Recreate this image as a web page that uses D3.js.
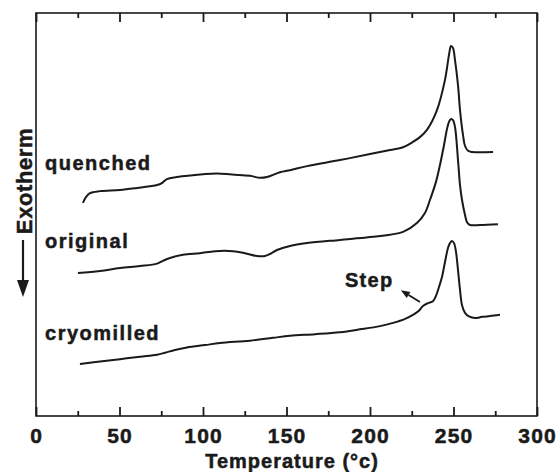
<!DOCTYPE html>
<html>
<head>
<meta charset="utf-8">
<script src="https://cdn.jsdelivr.net/npm/d3@7"></script>
<style>
  body { margin: 0; background: #fff; }
  svg text { font-family: "Liberation Sans", Arial, sans-serif; font-weight: bold; fill: #1a1a1a; stroke: #1a1a1a; stroke-width: 0.5px; }
</style>
</head>
<body>
<svg id="chart" width="558" height="472"></svg>
<script>
// Temperature (°C) and heat flow (arbitrary units)
const quenchedT = [28.1, 29.9, 32.3, 38.3, 50.3, 60.5, 72.5, 75.4, 78.4, 84.4, 100, 108.4, 117.4, 128.1, 134.1, 138.3, 146.1, 152.1, 162.3, 182, 200, 212, 219.8, 225.7, 229.9, 234.1, 240.1, 244.9, 247.3, 248.5, 249.7, 250.9, 252.7, 253.9, 255.7, 256.9, 258.7, 261.1, 273.7];
const quenchedV = [52.9, 54.3, 55.3, 55.8, 56.1, 56.6, 57.3, 57.8, 58.8, 59.3, 60.0, 60.2, 59.9, 59.6, 59.1, 59.3, 60.5, 61.0, 62.0, 63.5, 65.0, 66.0, 66.7, 68.0, 69.2, 71.0, 75.9, 83.4, 89.6, 91.8, 91.3, 88.3, 82.1, 75.9, 69.7, 67.0, 65.8, 65.5, 65.5];

const originalT = [25.1, 38.3, 50.3, 62.3, 72.5, 76.0, 80.2, 88.0, 98.2, 107.2, 118.0, 125.1, 132.3, 137.1, 140.1, 144.3, 152.1, 162.3, 182, 200, 219.8, 228.1, 232.9, 235.9, 239.5, 241.9, 244.3, 246.1, 247.3, 248.5, 249.7, 250.9, 252.7, 253.9, 255.1, 256.9, 258.1, 259.9, 265.9, 276.6];
const originalV = [35.5, 36.0, 36.7, 37.2, 37.8, 38.5, 39.2, 40.0, 40.4, 40.9, 40.9, 40.4, 39.7, 39.7, 40.2, 41.2, 42.2, 42.9, 43.7, 44.4, 45.7, 47.9, 50.4, 53.6, 58.1, 62.3, 67.2, 71.2, 73.0, 73.7, 73.4, 71.7, 63.5, 57.3, 53.6, 49.9, 48.1, 47.4, 47.4, 47.6];

const cryomilledT = [26.3, 38.3, 50.3, 62.3, 72.5, 77.2, 83.2, 90.4, 101.2, 110.2, 128.1, 141.9, 152.1, 167.1, 182, 194, 206, 213.8, 221, 225.7, 229.3, 231.7, 234.7, 237.7, 239.5, 241.3, 243.1, 244.9, 246.7, 247.9, 249.1, 250.3, 251.5, 252.7, 253.9, 255.1, 256.9, 259.3, 262.9, 267.1, 271.9, 277.8];
const cryomilledV = [12.9, 13.5, 14.1, 14.7, 15.2, 15.7, 16.4, 17.0, 17.6, 18.1, 18.7, 19.4, 19.9, 20.3, 20.8, 21.5, 22.3, 23.1, 24.1, 25.1, 26.1, 27.3, 28.0, 28.5, 29.8, 32.0, 34.5, 38.2, 41.7, 42.9, 43.4, 42.9, 40.7, 36.2, 31.3, 27.5, 25.6, 24.7, 24.3, 24.6, 24.8, 25.1];

const seriesNames = ["quenched", "original", "cryomilled"];
const xTicks = [0, 50, 100, 150, 200, 250, 300];
const xMinorTicks = [25, 75, 125, 175, 225, 275];

const svg = d3.select("#chart");
const margin = {top: 13, right: 21, bottom: 56, left: 36};
const W = 558, H = 472;

const x = d3.scaleLinear().domain([0, 300]).range([margin.left, W - margin.right]);
const y = d3.scaleLinear().domain([0, 100]).range([H - margin.bottom, margin.top]);

const ink = "#1a1a1a";

// frame
svg.append("rect")
  .attr("x", x(0)).attr("y", y(100))
  .attr("width", x(300) - x(0)).attr("height", y(0) - y(100))
  .attr("fill", "none").attr("stroke", ink).attr("stroke-width", 1.6);

// inward ticks, bottom and top
let addTicks = function(axisGen, yPos, vals, len) {
  let g = svg.append("g").attr("transform", `translate(0,${yPos})`)
    .call(axisGen.tickValues(vals).tickSize(len).tickFormat(""));
  g.select(".domain").remove();
  g.selectAll("line").attr("stroke", ink).attr("stroke-width", 1.8);
};
addTicks(d3.axisTop(x), y(0), xTicks, 9);
addTicks(d3.axisTop(x), y(0), xMinorTicks, 5);
addTicks(d3.axisBottom(x), y(100), xTicks, 9);
addTicks(d3.axisBottom(x), y(100), xMinorTicks, 5);

// tick labels
svg.append("g").selectAll("text")
  .data(xTicks).enter()
  .append("text")
  .attr("x", (d) => { return x(d) + 0.6; })
  .attr("y", 443)
  .attr("text-anchor", "middle")
  .style("font-size", "21px")
  .style("letter-spacing", "1.2px")
  .text((d) => { return d; });

svg.append("text")
  .attr("x", 292).attr("y", 468)
  .attr("text-anchor", "middle")
  .style("font-size", "20px")
  .style("letter-spacing", "1px")
  .text("Temperature (°c)");

// y label with downward arrow
svg.append("text")
  .attr("transform", "translate(32,181) rotate(-90)")
  .attr("text-anchor", "middle")
  .style("font-size", "22px")
  .style("letter-spacing", "0.6px")
  .text("Exotherm");

svg.append("line")
  .attr("x1", 23).attr("y1", 240).attr("x2", 23).attr("y2", 282)
  .attr("stroke", ink).attr("stroke-width", 2.2);
svg.append("path")
  .attr("d", "M17,280 L29,280 L23,297 Z")
  .attr("fill", ink);

// curves
let line = d3.line()
  .x((d) => { return x(d[0]); })
  .y((d) => { return y(d[1]); })
  .curve(d3.curveCatmullRom.alpha(0.5));

let curves = [
  d3.zip(quenchedT, quenchedV),
  d3.zip(originalT, originalV),
  d3.zip(cryomilledT, cryomilledV)
];

svg.append("g").selectAll("path")
  .data(curves).enter()
  .append("path")
  .attr("d", line)
  .attr("fill", "none")
  .attr("stroke", ink)
  .attr("stroke-width", 2)
  .attr("stroke-linejoin", "round");

// curve labels
let labelPos = [[5.4, 61.1], [5.4, 41.8], [5.4, 18.9]];
svg.append("g").selectAll("text")
  .data(seriesNames).enter()
  .append("text")
  .attr("x", (d, i) => { return x(labelPos[i][0]); })
  .attr("y", (d, i) => { return y(labelPos[i][1]); })
  .style("font-size", "20px")
  .style("letter-spacing", "1.5px")
  .text((d) => { return d; });

// Step annotation
svg.append("text")
  .attr("x", x(185)).attr("y", y(32))
  .style("font-size", "20px")
  .style("letter-spacing", "1.3px")
  .text("Step");

let a0 = [x(229.9), y(28.3)], a1 = [x(218.5), y(31.2)];
let ang = Math.atan2(a1[1] - a0[1], a1[0] - a0[0]);
let hl = 9, hw = 3.5;
let base = [a1[0] - hl * Math.cos(ang), a1[1] - hl * Math.sin(ang)];
svg.append("line")
  .attr("x1", a0[0]).attr("y1", a0[1]).attr("x2", base[0]).attr("y2", base[1])
  .attr("stroke", ink).attr("stroke-width", 1.8);
svg.append("path")
  .attr("d", `M${a1[0]},${a1[1]} L${base[0] + hw * Math.sin(ang)},${base[1] - hw * Math.cos(ang)} L${base[0] - hw * Math.sin(ang)},${base[1] + hw * Math.cos(ang)} Z`)
  .attr("fill", ink);
</script>
</body>
</html>
